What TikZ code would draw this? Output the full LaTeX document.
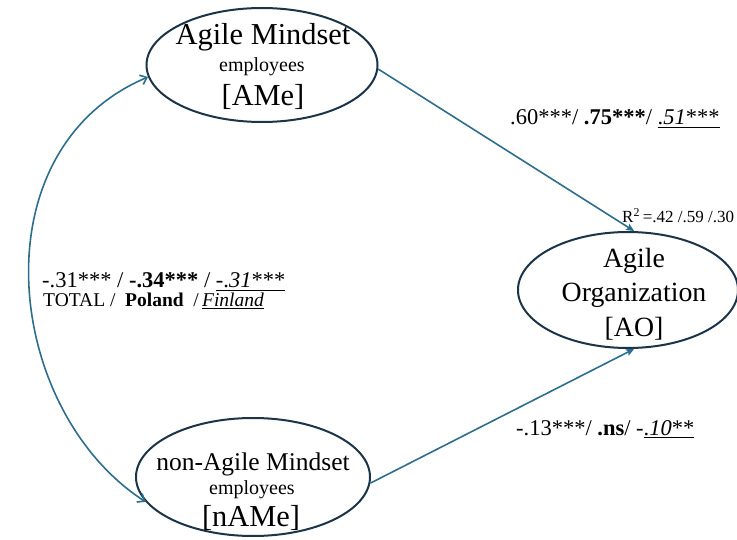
\documentclass[tikz,border=0pt]{standalone}
\usepackage{fontspec}
\setmainfont{Liberation Serif}
\newfontfamily\tnr{Liberation Serif}
\usetikzlibrary{shapes.geometric,arrows.meta,calc}
\definecolor{arrcol}{RGB}{44,110,140}
\definecolor{ellcol}{RGB}{27,52,71}
\begin{document}
\begin{tikzpicture}[x=1pt,y=-1pt,
  ell/.style={ellipse,draw=ellcol,line width=2pt,inner sep=0pt},
  arr/.style={draw=arrcol,line width=1.6pt,-{Stealth[length=8pt,width=7pt,inset=1.5pt]}},
  curv/.style={draw=arrcol,line width=1.6pt,{Straight Barb[length=6pt,width=10pt]}-{Straight Barb[length=6pt,width=10pt]}},
  big/.style={inner sep=0pt,anchor=base,font=\tnr\fontsize{30.4}{32}\selectfont},
  mid/.style={inner sep=0pt,anchor=base,font=\tnr\fontsize{25.5}{27}\selectfont},
  small/.style={inner sep=0pt,anchor=base,font=\tnr\fontsize{20}{21}\selectfont},
  lab/.style={inner sep=0pt,anchor=base west,font=\tnr\fontsize{22.5}{24}\selectfont},
  labs/.style={inner sep=0pt,anchor=base west,font=\tnr\fontsize{19.5}{21}\selectfont},
  rsq/.style={inner sep=0pt,anchor=base west,font=\tnr\fontsize{17}{18}\selectfont}]
\path[use as bounding box] (0,0) rectangle (737,540);

% ellipses
\node[ell,minimum width=231pt,minimum height=114pt] (AMe) at (262,65) {};
\node[ell,minimum width=220pt,minimum height=116pt] (AO) at (628,290) {};
\node[ell,minimum width=234pt,minimum height=118pt] (nAMe) at (253,477) {};

% texts in ellipses
\node[big] (AMe1) at (263,45) {Agile Mindset};
\node[small] (AMe2) at (262,72) {employees};
\node[big] (AMe3) at (263,106) {[AMe]};

\node[big,font=\tnr\fontsize{27.8}{29}\selectfont] (AO1) at (634,268) {Agile};
\node[big,font=\tnr\fontsize{27.8}{29}\selectfont] (AO2) at (634,302) {Organization};
\node[big,font=\tnr\fontsize{27.8}{29}\selectfont] (AO3) at (634,337) {[AO]};

\node[mid] (nAMe1) at (253,470) {non-Agile Mindset};
\node[small] (nAMe2) at (252,494) {employees};
\node[big] (nAMe3) at (251,526) {[nAMe]};

% connectors
\draw[arr] (AMe.-2) -- (AO.84);
\draw[arr] (nAMe.-3) -- (AO.-84);
\draw[curv] (nAMe.193) .. controls (4,410) and (-24,150) .. (AMe.186);

% labels
\node[lab] (l1) at (510,125) {.60***/ \textbf{.75***}/ \underline{.\textit{51}***}};
\node[rsq] (r2) at (622,223) {R\textsuperscript{2}\,=.42 /.59 /.30};
\node[lab] (l2) at (42,288) {-.31*** / \textbf{-.34***} / \underline{-.\textit{31}***}};
\node[labs] (l3) at (43,307) {TOTAL /\ \ \textbf{Poland}\ \ /\,\underline{\textit{Finland}}};
\node[lab] (l4) at (516,435) {-.13***/ \textbf{.ns}/ -\underline{.\textit{10}**}};
\end{tikzpicture}
\end{document}
